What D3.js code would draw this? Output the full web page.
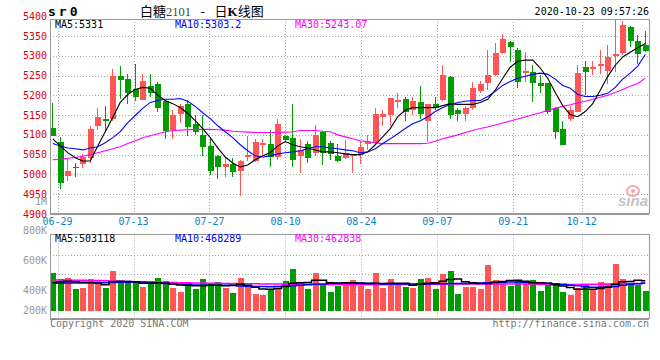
<!DOCTYPE html>
<html><head><meta charset="utf-8">
<script src="https://cdn.jsdelivr.net/npm/d3@7"></script>
<style>body{margin:0;background:#fff}svg{display:block}</style>
</head><body><svg id="c" width="660" height="360"></svg>
<script>
// ---------- data ----------
const dates = ["06-24","06-29","06-30","07-01","07-02","07-03","07-06","07-07","07-08","07-09","07-10","07-13","07-14","07-15","07-16","07-17","07-20","07-21","07-22","07-23","07-24","07-27","07-28","07-29","07-30","07-31","08-03","08-04","08-05","08-06","08-07","08-10","08-11","08-12","08-13","08-14","08-17","08-18","08-19","08-20","08-21","08-24","08-25","08-26","08-27","08-28","08-31","09-01","09-02","09-03","09-04","09-07","09-08","09-09","09-10","09-11","09-14","09-15","09-16","09-17","09-18","09-21","09-22","09-23","09-24","09-25","09-28","09-29","09-30","10-09","10-12","10-13","10-14","10-15","10-16","10-19","10-20","10-21","10-22","10-23"];
const open = [5118,5083,4996,5019,5026,5041,5123,5140,5139,5248, 5241,5215,5187,5223,5228,5185,5113,5154,5179,5128, 5100,5072,5047,5019,5027,5009,5045,5034,5075,5078, 5044,5098,5093,5047,5078,5055,5108,5080,5047,5042, 5047,5050,5078,5080,5146,5151,5182,5190,5164,5182, 5134,5179,5187,5246,5164,5154,5169,5210,5231,5251, 5307,5335,5314,5256,5258,5230,5230,5169,5116,5139, 5159,5271,5266,5274,5261,5302,5307,5373,5337,5327];
const high = [5180,5095,5039,5029,5051,5123,5169,5172,5266,5274, 5253,5279,5253,5253,5233,5187,5164,5177,5187,5149, 5149,5090,5050,5044,5042,5036,5098,5090,5090,5113, 5141,5100,5177,5090,5085,5126,5111,5085,5078,5088, 5052,5085,5100,5167,5162,5192,5207,5195,5195,5223, 5179,5195,5276,5248,5169,5174,5233,5236,5315,5332, 5355,5338,5320,5309,5276,5251,5232,5171,5134,5172, 5276,5286,5286,5315,5327,5393,5388,5375,5353,5363];
const low = [5096,4964,4983,4994,5017,5030,5113,5108,5134,5190, 5179,5185,5187,5195,5157,5090,5090,5131,5098,5100, 5047,4999,4989,4993,4993,4945,5034,5032,5050,5019, 5037,5085,5019,5004,5029,5047,5024,5037,5032,5040, 5004,5027,5062,5078,5123,5123,5169,5134,5151,5139, 5083,5162,5185,5139,5136,5134,5162,5205,5213,5249, 5305,5284,5218,5233,5182,5207,5154,5090,5075,5136, 5157,5200,5251,5253,5228,5258,5302,5322,5279,5309];
const close = [5098,4979,5009,5016,5044,5115,5144,5136,5248,5238, 5205,5195,5235,5207,5169,5111,5151,5172,5121,5108, 5070,5009,5019,5027,5006,5034,5048,5083,5080,5044, 5128,5088,5037,5062,5042,5100,5055,5052,5034,5055, 5052,5070,5083,5154,5154,5192,5187,5159,5185,5154, 5177,5167,5251,5151,5154,5169,5218,5228,5251,5307, 5342,5322,5233,5261,5230,5223,5159,5108,5075,5162, 5256,5258,5271,5279,5297,5304,5378,5337,5304,5312];
const ma5 = [5090,5072,5055,5042,5034,5034,5072,5108,5144,5182, 5202,5215,5220,5218,5200,5187,5179,5169,5154,5136, 5116,5093,5067,5044,5029,5019,5024,5037,5047,5055, 5072,5083,5075,5070,5067,5062,5057,5057,5055,5052, 5050,5050,5057,5075,5095,5116,5146,5162,5169,5169, 5169,5169,5174,5179,5177,5177,5177,5182,5190,5213, 5243,5271,5286,5289,5289,5269,5243,5207,5174,5151, 5146,5159,5179,5213,5248,5276,5297,5309,5320,5331];
const ma10 = [5078,5072,5067,5065,5062,5067,5070,5080,5093,5108, 5131,5149,5167,5182,5187,5190,5190,5192,5185,5172, 5156,5141,5123,5108,5093,5075,5060,5047,5044,5047, 5052,5055,5057,5060,5065,5070,5070,5067,5065,5062, 5060,5055,5057,5065,5078,5090,5103,5116,5128,5136, 5146,5159,5169,5177,5182,5185,5187,5187,5197,5210, 5225,5235,5243,5248,5253,5256,5253,5241,5225,5218, 5202,5197,5197,5200,5205,5220,5241,5256,5274,5303.2];
const ma30 = [5037,5038,5041,5043,5046,5050,5055,5060,5065,5070, 5078,5085,5093,5098,5103,5108,5111,5112,5113,5114, 5114,5114,5113,5112,5109,5108,5107,5106,5106,5106, 5106,5107,5108,5111,5111,5111,5109,5108,5100,5095, 5090,5085,5083,5080,5078,5078,5078,5078,5078,5078, 5079,5084,5090,5095,5100,5106,5111,5116,5120,5125, 5130,5135,5140,5145,5151,5156,5162,5167,5172,5176, 5181,5185,5190,5195,5200,5207,5215,5223,5230,5243.07];
// volume, thousands of lots
const volume = [635,534,551,367,384,534,501,384,668,484, 484,501,401,451,551,501,384,317,468,367, 534,468,484,384,301,551,401,284,267,351, 384,501,701,484,367,635,451,317,418,484, 518,418,367,635,384,534,451,401,384,534, 551,367,618,668,284,401,401,367,768,518, 484,418,518,501,518,334,468,451,317,267, 384,451,367,484,451,785,534,434,434,334];
const volMa5 = [470,490,495,490,480,475,462,440,490,495, 492,490,465,462,472,462,448,435,430,420, 420,430,430,420,430,445,430,395,368,365, 375,410,462,472,475,515,515,472,462,472, 472,462,458,462,458,462,462,462,430,445, 462,472,498,525,535,488,472,458,458,482, 492,508,512,498,472,472,462,440,418,392, 365,362,362,375,400,445,488,492,512,503.118];
const volMa10 = [465,465,466,467,468,470,470,472,475,480, 482,484,484,482,470,460,452,448,444,436, 432,430,428,428,426,418,412,410,408,406, 408,412,420,430,438,445,452,462,466,468, 468,466,464,458,455,452,450,450,450,450, 452,454,456,458,460,460,462,466,470,478, 482,484,484,482,478,470,464,456,444,432, 420,405,398,395,398,410,430,446,456,468.289];
const volMa30 = [518,518,516,514,512,510,508,505,502,498, 494,490,486,482,479,477,475,473,471,469, 467,465,463,461,459,457,455,453,451,450, 449,448,447,446,445,444,443,442,441,440, 440,440,440,440,440,441,442,443,444,445, 446,447,448,449,450,451,452,452,452,452, 452,452,451,450,449,448,447,446,445,444, 444,445,446,447,449,452,455,458,460,462.838];
const priceTicks = [5400,5350,5300,5250,5200,5150,5100,5050,5000,4950,4900];
const dateTicks = ["06-29","07-13","07-27","08-10","08-24","09-07","09-21","10-12"];
const volTickValues = [1000,800,600,400,200];
const volTickLabels = ["1M","800K","600K","400K","200K"];

// ---------- layout ----------
const svg = d3.select("#c");
const L = 50, R = 649, T = 19, B = 213.5, VT = 234.5, VB = 318.5;
const mono = "'DejaVu Sans Mono', monospace";
const UP = "#ff5555", DOWN = "#009c00", GRID = "#a8a8a8", FRAME = "#999";

const x = d3.scaleBand().domain(d3.range(dates.length)).range([49, 649]);
const xc = i => x(i) + x.bandwidth() / 2;
const xGrid = d3.scaleLinear().domain([0, dates.length - 1]).range([50, 650]);
const y = d3.scaleLinear().domain([4900, 5400]).range([214, 16.2]);
const yVol = d3.scaleLinear().domain([0, 1000]).range([311, 311 - 1000 / 16.7]);
const yVolLabel = d3.scaleLinear().domain([400, 1000]).range([290.2, 201.2]);
const px = v => Math.round(v) + 0.5;

// gridlines main
const g = svg.append("g");
g.selectAll(".hg").data(priceTicks.filter(v => y(v) > T + 2 && y(v) < B - 2)).join("line")
  .attr("x1", L).attr("x2", R).attr("y1", d => px(y(d))).attr("y2", d => px(y(d)))
  .attr("stroke", GRID).attr("stroke-dasharray", "1,2");
const gx = dateTicks.map(d => px(xGrid(dates.indexOf(d))));
g.selectAll(".vg").data(gx).join("line")
  .attr("x1", d => d).attr("x2", d => d).attr("y1", T).attr("y2", B)
  .attr("stroke", GRID).attr("stroke-dasharray", "1,2");
// volume gridlines
const volGridY = [255.5, 274.5, 294.5];
g.selectAll(".vhg").data(volGridY).join("line")
  .attr("x1", L).attr("x2", R).attr("y1", d => d).attr("y2", d => d)
  .attr("stroke", GRID).attr("stroke-dasharray", "1,2");
g.selectAll(".vvg").data(gx).join("line")
  .attr("x1", d => d).attr("x2", d => d).attr("y1", VT).attr("y2", VB)
  .attr("stroke", GRID).attr("stroke-dasharray", "1,2");

// watermark
const wm = svg.append("g");
wm.append("ellipse").attr("cx", 633).attr("cy", 191).attr("rx", 6).attr("ry", 5)
  .attr("fill", "none").attr("stroke", "#f7a8a8").attr("stroke-width", 2);
wm.append("circle").attr("cx", 633).attr("cy", 191).attr("r", 2).attr("fill", "#f7a8a8");
wm.append("text").attr("x", 618).attr("y", 206).text("sina")
  .attr("font-family", "'Liberation Sans', Arial, sans-serif").attr("font-weight", "bold")
  .attr("font-style", "italic").attr("font-size", 15).attr("fill", "#c4c4c4");

// candles
const idx = d3.range(dates.length);
const isUp = i => close[i] >= open[i];
const cg = svg.append("g").attr("shape-rendering", "crispEdges");
cg.selectAll(".wick").data(idx).join("line")
  .attr("x1", i => Math.floor(xc(i)) + 0.5).attr("x2", i => Math.floor(xc(i)) + 0.5)
  .attr("y1", i => y(high[i])).attr("y2", i => y(low[i]))
  .attr("stroke", i => isUp(i) ? UP : DOWN).attr("stroke-width", 1);
cg.selectAll(".body").data(idx).join("rect")
  .attr("x", i => Math.floor(xc(i)) - 2.5).attr("width", 6)
  .attr("y", i => y(Math.max(open[i], close[i])))
  .attr("height", i => Math.max(1.5, Math.abs(y(open[i]) - y(close[i]))))
  .attr("fill", i => isUp(i) ? UP : DOWN);

// MA lines main
const line = d3.line().x((d, i) => xc(i)).y(d => y(d));
[[ma30, "#ff00ff"], [ma10, "#0000ff"], [ma5, "#000"]].forEach(([arr, col]) => {
  svg.append("path").attr("d", line(arr)).attr("fill", "none").attr("stroke", col).attr("stroke-width", 1.1);
});

// volume bars
const vg = svg.append("g").attr("shape-rendering", "crispEdges");
vg.selectAll("rect").data(idx).join("rect")
  .attr("x", i => Math.floor(xc(i)) - 2.5).attr("width", 6)
  .attr("y", i => yVol(volume[i])).attr("height", i => yVol(0) - yVol(volume[i]))
  .attr("fill", i => isUp(i) ? UP : DOWN);
const vline = d3.line().curve(d3.curveStep).x((d, i) => xc(i)).y(d => yVol(d));
[[volMa30, "#ff00ff"], [volMa10, "#0000ff"], [volMa5, "#000"]].forEach(([arr, col]) => {
  svg.append("path").attr("d", vline(arr)).attr("fill", "none").attr("stroke", col).attr("stroke-width", 1.5);
});

// frames
const fr = svg.append("g").attr("fill", "none").attr("stroke", FRAME).attr("shape-rendering", "crispEdges");
fr.append("rect").attr("x", L).attr("y", T).attr("width", R - L).attr("height", B - T);
fr.append("rect").attr("x", L).attr("y", VT).attr("width", R - L).attr("height", VB - VT);
fr.append("line").attr("x1", L).attr("x2", R).attr("y1", B + 0.5).attr("y2", B + 0.5);
fr.append("line").attr("x1", L).attr("x2", R).attr("y1", VB + 0.5).attr("y2", VB + 0.5);

// axis labels
const txt = svg.append("g").attr("font-family", mono).attr("font-size", 10);
txt.selectAll(".yl").data(priceTicks).join("text")
  .attr("x", 47).attr("y", d => y(d) + 3.6).attr("text-anchor", "end").attr("fill", "#e00000").text(d => d);
txt.selectAll(".xl").data(dateTicks).join("text")
  .attr("x", d => xGrid(dates.indexOf(d))).attr("y", 225).attr("text-anchor", "middle").attr("fill", "#0a7fd0").text(d => d);
txt.selectAll(".vl").data(volTickValues).join("text")
  .attr("x", 47).attr("y", d => Math.min(yVolLabel(d), 310.3) + 3.6).attr("text-anchor", "end").attr("fill", "#999")
  .text((d, i) => volTickLabels[i]);

// legends
const last = dates.length - 1;
txt.append("text").attr("x", 55).attr("y", 27.5).attr("fill", "#000").text("MA5:" + ma5[last]);
txt.append("text").attr("x", 175).attr("y", 27.5).attr("fill", "#0000ff").text("MA10:" + ma10[last]);
txt.append("text").attr("x", 295).attr("y", 27.5).attr("fill", "#ff00ff").text("MA30:" + ma30[last]);
txt.append("text").attr("x", 55).attr("y", 241.8).attr("fill", "#000").text("MA5:" + Math.round(volMa5[last] * 1000));
txt.append("text").attr("x", 175).attr("y", 241.8).attr("fill", "#0000ff").text("MA10:" + Math.round(volMa10[last] * 1000));
txt.append("text").attr("x", 295).attr("y", 241.8).attr("fill", "#ff00ff").text("MA30:" + Math.round(volMa30[last] * 1000));

// header
svg.append("text").attr("x", 48).attr("y", 16).attr("font-family", mono).attr("font-weight", "bold")
  .attr("font-size", 13).attr("letter-spacing", 3).attr("fill", "#000").text("sr0");
const title = svg.append("text").attr("x", 140).attr("y", 15.5).attr("font-size", 13).attr("fill", "#000")
  .attr("font-family", "'Noto Sans CJK SC', sans-serif");
title.append("tspan").text("白糖");
title.append("tspan").attr("font-family", "'Liberation Serif', serif").attr("font-size", 12.5).attr("fill", "#444").text("2101");
title.append("tspan").attr("font-family", mono).text(" - ");
title.append("tspan").text("日");
title.append("tspan").attr("font-weight", "bold").attr("font-family", "'Liberation Serif', serif").text("K");
title.append("tspan").text("线图");
svg.append("text").attr("x", 649).attr("y", 15).attr("text-anchor", "end").attr("font-family", mono)
  .attr("font-size", 10).attr("fill", "#000").text("2020-10-23 09:57:26");

// footer
svg.append("text").attr("x", 50).attr("y", 326.5).attr("font-family", mono).attr("font-size", 10)
  .attr("fill", "#777").text("Copyright 2020 SINA.COM");
svg.append("text").attr("x", 649).attr("y", 326.5).attr("text-anchor", "end").attr("font-family", mono)
  .attr("font-size", 10).attr("fill", "#777").text("http://finance.sina.com.cn");
</script></body></html>
